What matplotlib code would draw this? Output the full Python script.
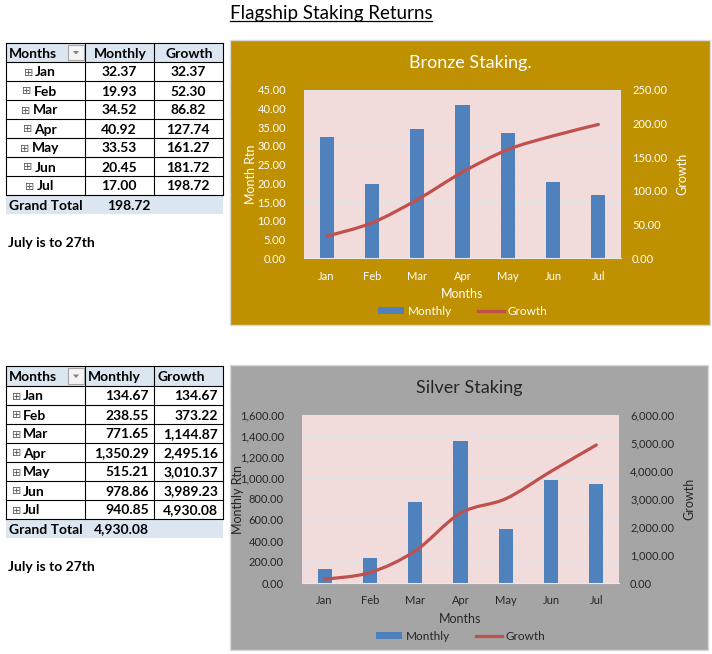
import numpy as np
import matplotlib
matplotlib.use("Agg")
import matplotlib.pyplot as plt
from matplotlib.patches import Rectangle, Patch, PathPatch, Polygon
from matplotlib.lines import Line2D
from matplotlib.path import Path
from matplotlib.ticker import FuncFormatter

plt.rcParams['font.family'] = ['Lato', 'DejaVu Sans']

# === data ===
months = ["Jan", "Feb", "Mar", "Apr", "May", "Jun", "Jul"]
bronze_monthly = [32.37, 19.93, 34.52, 40.92, 33.53, 20.45, 17.00]
bronze_growth = [32.37, 52.30, 86.82, 127.74, 161.27, 181.72, 198.72]
bronze_total = 198.72
silver_monthly = [134.67, 238.55, 771.65, 1350.29, 515.21, 978.86, 940.85]
silver_growth = [134.67, 373.22, 1144.87, 2495.16, 3010.37, 3989.23, 4930.08]
silver_total = 4930.08

W, H = 712, 654
BAR = '#4F81BD'
LINE = '#C0504D'
PLOT_BG = '#F2DCDB'
HEAD_BG = '#DCE6F1'

fig = plt.figure(figsize=(W / 100, H / 100), dpi=100)
fig.patch.set_facecolor('white')
bg = fig.add_axes([0, 0, 1, 1])
bg.set_xlim(0, W)
bg.set_ylim(H, 0)
bg.axis('off')


def fmt(v):
    return f"{v:,.2f}"


def px_box(x0, y0, x1, y1):
    return [x0 / W, 1 - y1 / H, (x1 - x0) / W, (y1 - y0) / H]


def smooth_path(xs, ys):
    # Excel-style smoothed line (bezier through each point)
    pts = np.column_stack([xs, ys]).astype(float)
    n = len(pts)
    verts = [tuple(pts[0])]
    codes = [Path.MOVETO]
    for i in range(n - 1):
        p0 = pts[max(i - 1, 0)]
        p1 = pts[i]
        p2 = pts[i + 1]
        p3 = pts[min(i + 2, n - 1)]
        c1 = p1 + (p2 - p0) / 6
        c2 = p2 - (p3 - p1) / 6
        verts += [tuple(c1), tuple(c2), tuple(p2)]
        codes += [Path.CURVE4] * 3
    return Path(verts, codes)


def draw_table(top, head_h, monthly, growth, total, align):
    x_cols = [6, 85, 154, 223]
    row_h = 19
    # header
    bg.add_patch(Rectangle((x_cols[0], top), x_cols[3] - x_cols[0], head_h,
                           facecolor=HEAD_BG, edgecolor='none'))
    y = top + head_h
    n = len(monthly)
    # grid
    for k in range(n + 1):
        bg.plot([x_cols[0], x_cols[3]], [y + k * row_h] * 2, color='black', lw=0.8)
    bg.plot([x_cols[0], x_cols[3]], [top, top], color='black', lw=0.8)
    for xc in x_cols:
        bg.plot([xc, xc], [top, y + n * row_h], color='black', lw=0.8)
    # grand total row
    bg.add_patch(Rectangle((x_cols[0], y + n * row_h), x_cols[3] - x_cols[0], row_h,
                           facecolor=HEAD_BG, edgecolor='none'))

    hy = top + head_h / 2 + 1
    bg.text(9, hy, "Months", fontsize=10, fontweight='bold', ha='left', va='center')
    # filter button
    bg.add_patch(Rectangle((68, top + 2), 16, head_h - 4, facecolor='#F4F4F4',
                           edgecolor='#A6A6A6', lw=0.8, zorder=3))
    cx, cy = 76, top + head_h / 2
    bg.add_patch(Polygon([[cx - 3, cy - 1.5], [cx + 3, cy - 1.5], [cx, cy + 2]],
                         closed=True, facecolor='#7F7F7F', edgecolor='none', zorder=4))
    if align == 'center':
        bg.text(120, hy, "Monthly", fontsize=10, fontweight='bold', ha='center', va='center')
        bg.text(189, hy, "Growth", fontsize=10, fontweight='bold', ha='center', va='center')
    else:
        bg.text(88, hy, "Monthly", fontsize=10, fontweight='bold', ha='left', va='center')
        bg.text(157, hy, "Growth", fontsize=10, fontweight='bold', ha='left', va='center')

    for k, (m, a, g) in enumerate(zip(months, monthly, growth)):
        ry = y + k * row_h + row_h / 2 + 1
        if align == 'center':
            t = bg.text(45.5, ry, m, fontsize=10, fontweight='bold', ha='center', va='center')
            bg.text(119, ry, fmt(a), fontsize=10, fontweight='bold', ha='center', va='center')
            bg.text(188, ry, fmt(g), fontsize=10, fontweight='bold', ha='center', va='center')
        else:
            t = bg.text(23, ry, m, fontsize=10, fontweight='bold', ha='left', va='center')
            bg.text(149, ry, fmt(a), fontsize=10, fontweight='bold', ha='right', va='center')
            bg.text(218, ry, fmt(g), fontsize=10, fontweight='bold', ha='right', va='center')
        bg.annotate("⊞", xy=(0, 0.5), xycoords=t, xytext=(-1.5, 0), textcoords='offset points',
                    ha='right', va='center', fontsize=8, color='#595959', family='DejaVu Sans')

    gy = y + n * row_h + row_h / 2 + 1
    bg.text(9, gy, "Grand Total", fontsize=10, fontweight='bold', ha='left', va='center')
    if align == 'center':
        bg.text(129, gy, fmt(total), fontsize=10, fontweight='bold', ha='center', va='center')
    else:
        bg.text(149, gy, fmt(total), fontsize=10, fontweight='bold', ha='right', va='center')
    bg.text(8, y + n * row_h + 48, "July is to 27th", fontsize=10, fontweight='bold',
            ha='left', va='center')


def draw_chart(panel, plot, panel_color, text_color, title, left_label,
               monthly, growth, lmax, lstep, rmax, rstep, ylab_x, rlab_x):
    px0, py0, px1, py1 = panel
    bg.add_patch(Rectangle((px0, py0), px1 - px0, py1 - py0, facecolor=panel_color,
                           edgecolor='#D9D9D9', lw=1))
    x0, y0, x1, y1 = plot
    ax = fig.add_axes(px_box(x0, y0, x1, y1))
    ax.set_facecolor(PLOT_BG)
    x = np.arange(len(months))
    ax.bar(x, monthly, width=0.31, color=BAR, zorder=2)
    ax.set_xlim(-0.5, len(months) - 0.5)
    ax.set_ylim(0, lmax)
    ax.set_yticks(np.arange(0, lmax + lstep / 2, lstep))
    ax.yaxis.set_major_formatter(FuncFormatter(lambda v, p: fmt(v)))
    ax.set_xticks(x)
    ax.set_xticklabels(months)
    ax.grid(axis='y', color='#E3E3EA', lw=0.8, zorder=0)
    ax.set_axisbelow(True)
    for s in ['top', 'left', 'right']:
        ax.spines[s].set_visible(False)
    ax.spines['bottom'].set_color('#E8E8E8')
    ax.tick_params(length=0, labelsize=8, colors=text_color)
    ax.tick_params(axis='y', pad=13)
    ax.tick_params(axis='x', pad=9)

    ax2 = ax.twinx()
    ax2.set_ylim(0, rmax)
    ax2.set_yticks(np.arange(0, rmax + rstep / 2, rstep))
    ax2.yaxis.set_major_formatter(FuncFormatter(lambda v, p: fmt(v)))
    ax2.tick_params(length=0, labelsize=8, colors=text_color, pad=8)
    for s in ax2.spines.values():
        s.set_visible(False)
    ax2.add_patch(PathPatch(smooth_path(x, growth), fill=False, edgecolor=LINE,
                            lw=2.3, capstyle='round', joinstyle='round', zorder=3))

    cy = (y0 + y1) / 2
    bg.text(ylab_x, cy, left_label, rotation=90, fontsize=9, color=text_color,
            ha='center', va='center')
    bg.text(rlab_x, cy, "Growth", rotation=90, fontsize=9, color=text_color,
            ha='center', va='center')
    bg.text((px0 + px1) / 2, py0 + 23, title, fontsize=13, color=text_color,
            ha='center', va='center')
    bg.text((x0 + x1) / 2, y1 + 36, "Months", fontsize=9, color=text_color,
            ha='center', va='center')
    handles = [Patch(facecolor=BAR), Line2D([0], [0], color=LINE, lw=2.3)]
    leg = fig.legend(handles, ["Monthly", "Growth"], ncol=2, frameon=False,
                     loc='center', bbox_to_anchor=((x0 + x1) / 2 / W, 1 - (y1 + 53) / H),
                     fontsize=8.5, handlelength=2.2, handleheight=0.6,
                     handletextpad=0.3, columnspacing=2.2)
    for t in leg.get_texts():
        t.set_color(text_color)


draw_table(43, 19, bronze_monthly, bronze_growth, bronze_total, 'center')
draw_table(366, 20, silver_monthly, silver_growth, silver_total, 'right')

draw_chart((230, 40, 710, 325), (304, 90, 621, 258), '#BF9000', 'white',
           "Bronze Staking.", "Month Rtn", bronze_monthly, bronze_growth,
           45, 5, 250, 50, 251, 682)
draw_chart((230, 365, 708, 650), (302, 415, 619, 583), '#A5A5A5', '#262626',
           "Silver Staking", "Monthly Rtn", silver_monthly, silver_growth,
           1600, 200, 6000, 1000, 238, 689)

# main title, underlined
title = bg.text(331, 13, "Flagship Staking Returns", fontsize=13.5, ha='center',
                va='center', color='black')
fig.canvas.draw()
bb = title.get_window_extent().transformed(bg.transData.inverted())
bg.plot([bb.x0, bb.x1], [max(bb.y0, bb.y1) - 1] * 2, color='black', lw=0.9)

fig.savefig("out.png", dpi=100)
